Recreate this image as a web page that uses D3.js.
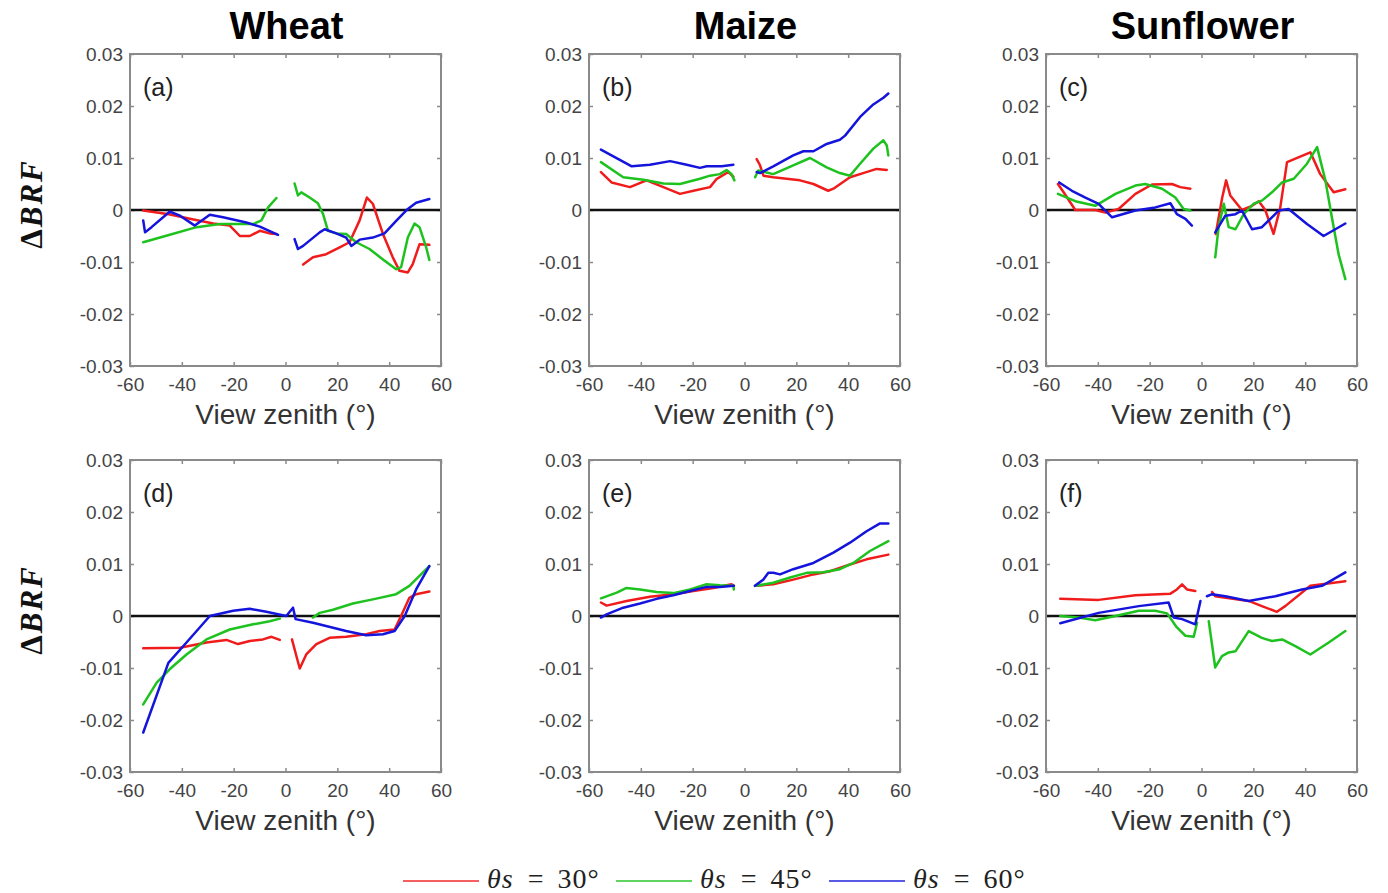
<!DOCTYPE html>
<html>
<head>
<meta charset="utf-8">
<script src="https://cdn.jsdelivr.net/npm/d3@7"></script>
<style>
  html, body { margin: 0; padding: 0; background: #fff; }
  svg { display: block; }
</style>
</head>
<body>
<svg id="fig" width="1388" height="893"></svg>
<script>
// ΔBRF versus view zenith angle for three crops and two cases (top and bottom rows).
const crops = ["Wheat", "Maize", "Sunflower"];
const panelLetters = ["(a)", "(b)", "(c)", "(d)", "(e)", "(f)"];
const sunAngles = [30, 45, 60];
const xTicks = [-60, -40, -20, 0, 20, 40, 60];
const yTicks = [-0.03, -0.02, -0.01, 0, 0.01, 0.02, 0.03];

// [view zenith (deg), ΔBRF]; null marks the gap around nadir
const wheatTop30 = [[-54.9,-0.0001],[-45,-0.0008],[-36.9,-0.0017],[-27.9,-0.0026],[-21.5,-0.003],[-17.6,-0.005],[-13.8,-0.005],[-9.9,-0.004],[-6.1,-0.0045],[-3.5,-0.0046], null,
  [6.8,-0.0105],[10.6,-0.0091],[15.7,-0.0085],[20.9,-0.0072],[24.7,-0.0062],[28.6,-0.002],[31.4,0.0024],[33.7,0.0012],[37.6,-0.0046],[41.4,-0.0091],[44,-0.0117],[47.2,-0.012],[49.1,-0.0104],[51.7,-0.0066],[55.5,-0.0067]];
const wheatTop45 = [[-54.9,-0.0062],[-45,-0.0048],[-34.3,-0.0033],[-25.3,-0.0027],[-12.5,-0.0027],[-9.3,-0.002],[-6.7,0.0005],[-3.5,0.0023], null,
  [3.5,0.0051],[4.8,0.0028],[6.1,0.0034],[9.3,0.0024],[12.5,0.0013],[14.5,-0.0008],[16.4,-0.004],[19.6,-0.0045],[23.4,-0.0046],[27.3,-0.0062],[32.4,-0.0075],[37.6,-0.0095],[42.7,-0.0114],[44.6,-0.011],[47.2,-0.0053],[49.8,-0.0026],[51.7,-0.0033],[54.3,-0.0072],[55.5,-0.0096]];
const wheatTop60 = [[-54.9,-0.002],[-54.2,-0.0043],[-51.7,-0.0033],[-44.6,-0.0003],[-40.7,-0.0011],[-35,-0.003],[-29.2,-0.0009],[-24.1,-0.0014],[-15.1,-0.0024],[-9.9,-0.0032],[-2.9,-0.0048], null,
  [3.5,-0.0056],[4.8,-0.0075],[6.8,-0.0069],[13.2,-0.0043],[15.1,-0.0037],[19.6,-0.0045],[23.4,-0.0053],[25.4,-0.0069],[28.6,-0.0057],[33.7,-0.0053],[38.2,-0.0045],[42.7,-0.0021],[47.2,0.0002],[50.4,0.0014],[55.5,0.0021]];

const maizeTop30 = [[-55.4,0.0073],[-51.3,0.0053],[-44.2,0.0044],[-37.8,0.0057],[-31.3,0.0044],[-24.9,0.0031],[-19.7,0.0037],[-13.3,0.0044],[-10.7,0.006],[-6.2,0.0073],[-4.3,0.0064], null,
  [4.7,0.0098],[6,0.0086],[7.3,0.0066],[11.1,0.0063],[21.4,0.0057],[26.6,0.005],[32.3,0.0037],[34.3,0.0041],[40.7,0.0063],[45.8,0.0071],[51,0.0079],[54.9,0.0077]];
const maizeTop45 = [[-55.4,0.0092],[-46.8,0.0063],[-39,0.0058],[-31.3,0.0051],[-24.9,0.005],[-17.2,0.006],[-13.3,0.0066],[-9.5,0.0069],[-6.9,0.0077],[-5,0.0069],[-3.9,0.0057], null,
  [4.1,0.0063],[5.3,0.0076],[11.1,0.0069],[18.8,0.0086],[25.3,0.01],[31.7,0.0082],[36.8,0.0071],[40.7,0.0066],[44.6,0.0089],[49.7,0.0118],[53.6,0.0134],[54.9,0.0124],[55.5,0.0105]];
const maizeTop60 = [[-55.4,0.0116],[-43.5,0.0084],[-36.5,0.0087],[-28.7,0.0094],[-22.3,0.0087],[-17.2,0.0081],[-14.6,0.0084],[-8.8,0.0084],[-4.3,0.0087], null,
  [4.7,0.0073],[6,0.0071],[11.1,0.0084],[18.8,0.0105],[22.7,0.0113],[26.6,0.0113],[31.7,0.0127],[36.8,0.0135],[38.8,0.0143],[44.6,0.0179],[49.7,0.0203],[53.6,0.0216],[55.5,0.0224]];

const sunflowerTop30 = [[-55.4,0.005],[-53.2,0.0034],[-48.7,0],[-41,0],[-37.1,-0.0005],[-32,0.0002],[-25.5,0.0031],[-19.1,0.0049],[-11.4,0.005],[-8.2,0.0044],[-4.3,0.0041], null,
  [5.5,-0.0046],[8,0.0024],[9.5,0.0057],[11.1,0.0028],[15.6,0],[19.5,0.0008],[22.1,0.0017],[24.6,0],[27.8,-0.0046],[30.4,0.0005],[33,0.0092],[42,0.0111],[45.8,0.0069],[51,0.0034],[55.5,0.004]];
const sunflowerTop45 = [[-55.4,0.0031],[-48.7,0.0017],[-41,0.0008],[-33.2,0.0031],[-25.5,0.0047],[-21.7,0.005],[-15.2,0.0041],[-10.1,0.0024],[-6.9,0.0002],[-4.3,-0.0001], null,
  [5.3,-0.0091],[6.6,-0.0033],[8.6,0.0012],[10.5,-0.0033],[13.1,-0.0037],[16.3,-0.0008],[20.1,0.0012],[23.3,0.0018],[27.2,0.0034],[31.1,0.0053],[35.6,0.006],[40.7,0.0089],[44.6,0.0121],[47.8,0.0057],[50.3,-0.0014],[52.9,-0.0085],[55.5,-0.0133]];
const sunflowerTop60 = [[-54.9,0.0053],[-50,0.0037],[-44.8,0.0024],[-39.7,0.0012],[-34.5,-0.0014],[-25.5,-0.0001],[-17.8,0.0005],[-12,0.0013],[-9.5,-0.0008],[-6.2,-0.0017],[-3.7,-0.003], null,
  [5.3,-0.0043],[9.2,-0.0011],[13.1,-0.0008],[15.6,-0.0001],[19.5,-0.0037],[23.3,-0.0033],[29.8,-0.0001],[33.6,0.0002],[40.7,-0.0027],[47.1,-0.005],[55.5,-0.0026]];

const wheatBottom30 = [[-54.9,-0.0062],[-40.7,-0.0061],[-30.5,-0.0051],[-22.8,-0.0046],[-18.3,-0.0054],[-13.8,-0.0048],[-8.7,-0.0045],[-5.4,-0.004],[-2.2,-0.0046], null,
  [2.5,-0.0045],[4.2,-0.0077],[5.5,-0.0101],[8,-0.0074],[11.9,-0.0054],[17,-0.0042],[23.4,-0.004],[31.1,-0.0035],[36.3,-0.0029],[42.1,-0.0026],[44.6,0],[47.8,0.0035],[50.4,0.0042],[55.5,0.0047]];
const wheatBottom45 = [[-54.9,-0.017],[-49.7,-0.0128],[-44.6,-0.0102],[-38.2,-0.0074],[-30.5,-0.0045],[-21.5,-0.0026],[-12.5,-0.0016],[-6.1,-0.001],[-2.2,-0.0005], null,
  [10.6,-0.0003],[13.2,0.0006],[18.3,0.0012],[26,0.0024],[33.7,0.0032],[42.7,0.0042],[47.8,0.0058],[55.5,0.0096]];
const wheatBottom60 = [[-54.9,-0.0224],[-45.2,-0.009],[-38.2,-0.0051],[-29.2,0],[-20.2,0.001],[-13.8,0.0014],[-7.4,0.0008],[0.3,0],[2.9,0.0016],[3.9,-0.0006],
  [10.6,-0.0013],[23.4,-0.0029],[31.1,-0.0037],[37.6,-0.0035],[42.1,-0.0029],[46,0],[50.4,0.0051],[55.5,0.0096]];

const maizeBottom30 = [[-55.4,0.0026],[-53.2,0.002],[-45.5,0.0029],[-36.5,0.0037],[-27.5,0.0042],[-19.7,0.0048],[-12,0.0054],[-5,0.0061],[-4.1,0.0058], null,
  [4.7,0.0058],[11.1,0.0061],[18.8,0.007],[26.6,0.008],[33,0.0086],[40.7,0.0099],[47.1,0.0109],[55.5,0.0118]];
const maizeBottom45 = [[-55.4,0.0034],[-49.3,0.0045],[-45.5,0.0054],[-40.3,0.0051],[-33.9,0.0046],[-27.5,0.0044],[-21,0.0051],[-14.6,0.0061],[-9.5,0.0059],[-4.3,0.0058],[-4.1,0.0051], null,
  [4.3,0.0058],[11.1,0.0064],[17.6,0.0074],[24,0.0083],[30.4,0.0084],[36.8,0.009],[42,0.0102],[48.4,0.0125],[55.5,0.0144]];
const maizeBottom60 = [[-55.4,-0.0003],[-53.2,0.0003],[-46.8,0.0016],[-40.3,0.0024],[-33.9,0.0033],[-27.5,0.004],[-21,0.0048],[-14.6,0.0056],[-9.5,0.0056],[-4.1,0.0058], null,
  [4,0.0058],[7.3,0.007],[9.2,0.0083],[11.1,0.0083],[13.7,0.008],[18.8,0.009],[26.6,0.0102],[34.3,0.0122],[40.7,0.0141],[47.1,0.0163],[52.3,0.0178],[55.5,0.0178]];

const sunflowerBottom30 = [[-54.5,0.0033],[-39.7,0.0031],[-25.5,0.004],[-12,0.0043],[-9.5,0.0051],[-7.5,0.0061],[-5.6,0.0051],[-2.4,0.0048], null,
  [4.1,0.0046],[5.3,0.0038],[18.2,0.0029],[23.3,0.0019],[29.1,0.0008],[32.3,0.0019],[42,0.0058],[46.5,0.0061],[55.5,0.0067]];
const sunflowerBottom45 = [[-54.5,0],[-47.4,-0.0003],[-41,-0.0008],[-33.2,0],[-24.2,0.001],[-17.8,0.001],[-13.3,0.0005],[-9.5,-0.0022],[-6.2,-0.0038],[-3,-0.004],[-1.7,-0.0013], null,
  [2.8,-0.001],[5.3,-0.0099],[7.9,-0.0077],[10.5,-0.007],[13.1,-0.0068],[18.2,-0.0029],[23.3,-0.0042],[27.2,-0.0048],[31.1,-0.0045],[36.2,-0.0058],[42,-0.0074],[49.1,-0.0051],[55.5,-0.0029]];
const sunflowerBottom60 = [[-54.5,-0.0014],[-39.7,0.0006],[-24.2,0.0019],[-12.7,0.0026],[-10.7,-0.0003],[-7.5,-0.0006],[-2.4,-0.0016],[-0.4,0.0029], null,
  [2.1,0.0038],[4.1,0.0042],[9.2,0.0038],[18.2,0.0029],[28.5,0.0038],[38.8,0.0051],[46.5,0.0058],[55.5,0.0084]];

// panels in reading order, each with its three sun-angle series
const panelSeries = [
  [wheatTop30, wheatTop45, wheatTop60],
  [maizeTop30, maizeTop45, maizeTop60],
  [sunflowerTop30, sunflowerTop45, sunflowerTop60],
  [wheatBottom30, wheatBottom45, wheatBottom60],
  [maizeBottom30, maizeBottom45, maizeBottom60],
  [sunflowerBottom30, sunflowerBottom45, sunflowerBottom60]
];

// ---- layout and styling ----
const colors = ["#f01c1c", "#1ec21e", "#1414dc"];
const colLeft = [130, 589, 1046];
const rowTop = [54, 460];
const pw = 311, ph = 312;
const sans = "'Liberation Sans', Arial, sans-serif";
const serif = "'Liberation Serif', 'Times New Roman', serif";

const svg = d3.select("#fig");
svg.append("rect").attr("width", 1388).attr("height", 893).attr("fill", "#fff");

const x = d3.scaleLinear().domain([-60, 60]).range([0, pw]);
const y = d3.scaleLinear().domain([-0.03, 0.03]).range([ph, 0]);
const line = d3.line().defined(d => d !== null).x(d => x(d[0])).y(d => y(d[1]));
const fmtY = d => d === 0 ? "0" : d.toFixed(2);

// column titles
crops.forEach((c, i) => {
  svg.append("text")
    .attr("x", colLeft[i] + pw / 2 + 1).attr("y", 39)
    .attr("text-anchor", "middle")
    .attr("font-family", sans).attr("font-weight", "bold").attr("font-size", 38)
    .attr("fill", "#000").text(c);
});

panelSeries.forEach((series, p) => {
  const col = p % 3, row = Math.floor(p / 3);
  const g = svg.append("g").attr("transform", `translate(${colLeft[col]},${rowTop[row]})`);

  // inward ticks on all four sides
  const tickColor = "#8a8a8a";
  const axB = g.append("g").attr("transform", `translate(0,${ph})`)
    .call(d3.axisTop(x).tickValues(xTicks).tickSize(4).tickFormat(""));
  const axT = g.append("g").call(d3.axisBottom(x).tickValues(xTicks).tickSize(4).tickFormat(""));
  const axL = g.append("g").call(d3.axisRight(y).tickValues(yTicks).tickSize(4).tickFormat(""));
  const axR = g.append("g").attr("transform", `translate(${pw},0)`)
    .call(d3.axisLeft(y).tickValues(yTicks).tickSize(4).tickFormat(""));
  [axB, axT, axL, axR].forEach(a => {
    a.select(".domain").remove();
    a.selectAll("line").attr("stroke", tickColor).attr("stroke-width", 1.5);
  });

  // tick labels
  const axLabX = g.append("g").attr("transform", `translate(0,${ph})`)
    .call(d3.axisBottom(x).tickValues(xTicks).tickSize(0).tickPadding(0).tickFormat(d => String(d)));
  axLabX.select(".domain").remove();
  axLabX.selectAll("text").attr("dy", null).attr("y", 25)
    .attr("font-family", sans).attr("font-size", 19).attr("fill", "#444");

  const axLabY = g.append("g")
    .call(d3.axisLeft(y).tickValues(yTicks).tickSize(0).tickPadding(7).tickFormat(fmtY));
  axLabY.select(".domain").remove();
  axLabY.selectAll("text").attr("dy", "0.35em")
    .attr("font-family", sans).attr("font-size", 19).attr("fill", "#444");

  // zero reference line
  g.append("line")
    .attr("x1", 0).attr("x2", pw).attr("y1", y(0)).attr("y2", y(0))
    .attr("stroke", "#111").attr("stroke-width", 2.6);

  // series
  series.forEach((data, s) => {
    g.append("path").datum(data)
      .attr("d", line)
      .attr("fill", "none")
      .attr("stroke", colors[s])
      .attr("stroke-width", 2.5)
      .attr("stroke-linejoin", "round")
      .attr("stroke-linecap", "round");
  });

  // frame
  g.append("rect").attr("x", 0).attr("y", 0).attr("width", pw).attr("height", ph)
    .attr("fill", "none").attr("stroke", "#8a8a8a").attr("stroke-width", 2);

  // panel letter
  g.append("text").attr("x", 13).attr("y", 42)
    .attr("font-family", sans).attr("font-size", 25).attr("fill", "#222")
    .text(panelLetters[p]);

  // x axis title
  g.append("text").attr("x", pw / 2).attr("y", ph + 58)
    .attr("text-anchor", "middle")
    .attr("font-family", sans).attr("font-size", 28).attr("fill", "#333")
    .text("View zenith (°)");
});

// row titles ΔBRF
rowTop.forEach(t => {
  const txt = svg.append("text")
    .attr("transform", `translate(42,${t + ph / 2 - 6}) rotate(-90)`)
    .attr("text-anchor", "middle")
    .attr("font-family", serif).attr("font-size", 31).attr("font-weight", "bold")
    .attr("letter-spacing", 2)
    .attr("fill", "#111");
  txt.append("tspan").text("Δ");
  txt.append("tspan").attr("font-style", "italic").text("BRF");
});

// legend
const legendX = [403, 616, 829];
sunAngles.forEach((a, i) => {
  const lg = svg.append("g").attr("transform", `translate(${legendX[i]},881)`);
  lg.append("line").attr("x1", 0).attr("x2", 76).attr("y1", 0).attr("y2", 0)
    .attr("stroke", colors[i]).attr("stroke-width", 2.2).attr("opacity", 0.7);
  const t = lg.append("text").attr("x", 84).attr("y", 7)
    .attr("font-family", serif).attr("font-size", 28).attr("fill", "#222");
  t.append("tspan").attr("font-style", "italic").attr("letter-spacing", 1).text("θs");
  t.append("tspan").attr("dx", 14).text("=");
  t.append("tspan").attr("dx", 14).attr("letter-spacing", 1).text(`${a}°`);
});
</script>
</body>
</html>
